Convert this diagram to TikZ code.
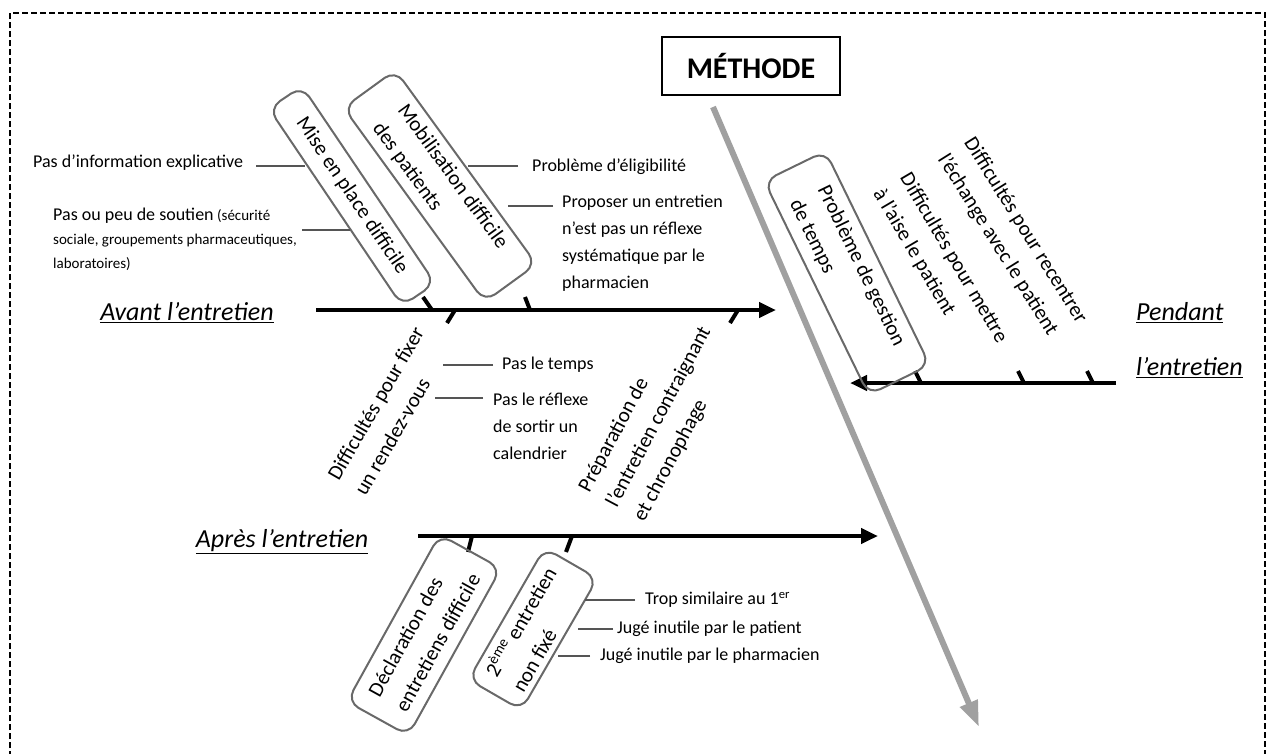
\documentclass[tikz,border=0pt]{standalone}
\usepackage{fontspec}
\setmainfont{Carlito}
\usetikzlibrary{arrows.meta}
\newcommand{\smalltxt}{\fontsize{18}{27}\selectfont}
\newcommand{\tinytxt}{\fontsize{15}{24}\selectfont}
\newcommand{\boxtxt}{\fontsize{21}{31}\selectfont}
\newcommand{\phasetxt}{\fontsize{26}{55}\selectfont\itshape}
\definecolor{spinegray}{RGB}{160,160,160}
\definecolor{boxgray}{RGB}{105,105,105}
\definecolor{conngray}{RGB}{85,85,85}

\begin{document}
\begin{tikzpicture}[x=1pt,y=-1pt,
    frame/.style={line width=2pt,dash pattern=on 6pt off 3pt},
    bone/.style={line width=4.5pt,-{Triangle[length=17pt,width=15pt]}},
    spine/.style={spinegray,line width=6pt,-{Triangle[length=26pt,width=18pt]}},
    rib/.style={line width=4pt},
    cause/.style={draw=boxgray,line width=2pt,rounded corners=13pt,inner sep=0pt,align=left,font=\boxtxt},
    sidetxt/.style={inner sep=0pt,align=left,font=\boxtxt},
    lbl/.style={inner sep=0pt,anchor=west,align=left,font=\smalltxt},
    conn/.style={conngray,line width=1.4pt},
    phase/.style={inner sep=0pt,align=left,font=\phasetxt}]
    \useasboundingbox (0,0) rectangle (1270,753);
    \draw[frame] (10,775) -- (10,13) -- (1265,13) -- (1265,775);

    % title and spine
    \node[draw,line width=1.2pt,minimum width=178pt,minimum height=58pt,
        font=\fontsize{30}{36}\selectfont\bfseries] (methode) at (751,66) {MÉTHODE};
    \coordinate (spS) at (713,107);
    \coordinate (spE) at (979,727);
    \draw[spine] (spS) -- (spE);

    % bones
    \coordinate (avS) at (316,310);
    \coordinate (avE) at (776,310);
    \coordinate (peS) at (1116,383);
    \coordinate (peE) at (850,383);
    \coordinate (apS) at (418,536);
    \coordinate (apE) at (878,536);
    \draw[bone] (avS) -- (avE);
    \draw[bone] (peS) -- (peE);
    \draw[bone] (apS) -- (apE);
    \foreach \x/\y/\dx/\dy in {432/310/-9/-13, 530/310/-5/-13, 455/310/-8/13, 738/310/-8/13,
        921/383/-6/-12, 1024/383/-6/-12, 1093/383/-6/-12, 472/536/-4/16, 572/536/-6/16}
        \draw[rib] (\x,\y) -- ++(\dx,\dy);

    % phases
    \node[phase] (avant) at (187,313) {\underline{Avant l’entretien}};
    \node[phase,anchor=west] (pendant) at (1136,340) {\underline{Pendant}\\\underline{l’entretien}};
    \node[phase] (apres) at (282,542) {\underline{Après l’entretien}};

    % causes avant
    \node[cause,rotate=-56,minimum width=238pt,minimum height=40pt] (mise) at (352,196) {Mise en place difficile};
    \node[cause,rotate=-54,minimum width=240pt,minimum height=64pt] (mobil) at (440,186) {Mobilisation difficile\\des patients};
    \node[sidetxt,rotate=60] (rdv) at (389,411) {Difficultés pour fixer\\un rendez-vous};
    \node[sidetxt,rotate=62] (prep) at (659,417) {Préparation de\\l’entretien contraignant\\et chronophage};

    \node[lbl] (info) at (33,163) {Pas d’information explicative};
    \node[lbl,font=\tinytxt] (soutien) at (53,239) {{\fontsize{18}{24}\selectfont Pas ou peu de soutien} (sécurité\\sociale, groupements pharmaceutiques,\\laboratoires)};
    \node[lbl] (elig) at (532,167) {Problème d’éligibilité};
    \node[lbl] (reflexe) at (562,243) {Proposer un entretien\\n’est pas un réflexe\\systématique par le\\pharmacien};
    \node[lbl] (temps) at (502,365) {Pas le temps};
    \node[lbl] (calend) at (493,426) {Pas le réflexe\\de sortir un\\calendrier};
    \draw[conn] ([shift={(13,3)}]info.east) -- ++(49,0);
    \draw[conn] ([shift={(5,-9)}]soutien.east) -- ++(48,0);
    \draw[conn] ([shift={(-14,-1)}]elig.west) -- ++(-50,0);
    \draw[conn] ([shift={(-9,-37)}]reflexe.west) -- ++(-45,0);
    \draw[conn] ([xshift=-9]temps.west) -- ++(-50,0);
    \draw[conn] ([shift={(-10,-28)}]calend.west) -- ++(-48,0);

    % causes pendant
    \node[cause,rotate=-64,minimum width=238pt,minimum height=68pt] (gestion) at (847,273) {Problème de gestion\\de temps};
    \node[sidetxt,rotate=-59.5] (aise) at (940,266) {Difficultés pour mettre\\à l’aise le patient};
    \node[sidetxt,rotate=-58] (recentrer) at (1012,239) {Difficultés pour recentrer\\l’échange avec le patient};

    % causes apres
    \node[cause,rotate=61,minimum width=191pt,minimum height=70pt] (decl) at (424,635) {Déclaration des\\entretiens difficile};
    \node[cause,rotate=60,minimum width=152pt,minimum height=61pt] (second) at (533,629) {2\textsuperscript{ème} entretien\\non fixé};
    \node[lbl] (trop) at (645,600) {Trop similaire au 1\textsuperscript{er}};
    \node[lbl] (jpat) at (617,629) {Jugé inutile par le patient};
    \node[lbl] (jpha) at (600,656) {Jugé inutile par le pharmacien};
    \draw[conn] ([xshift=-10]trop.west) -- ++(-50,0);
    \draw[conn] ([xshift=-4]jpat.west) -- ++(-35,0);
    \draw[conn] ([xshift=-10]jpha.west) -- ++(-32,0);
\end{tikzpicture}
\end{document}
